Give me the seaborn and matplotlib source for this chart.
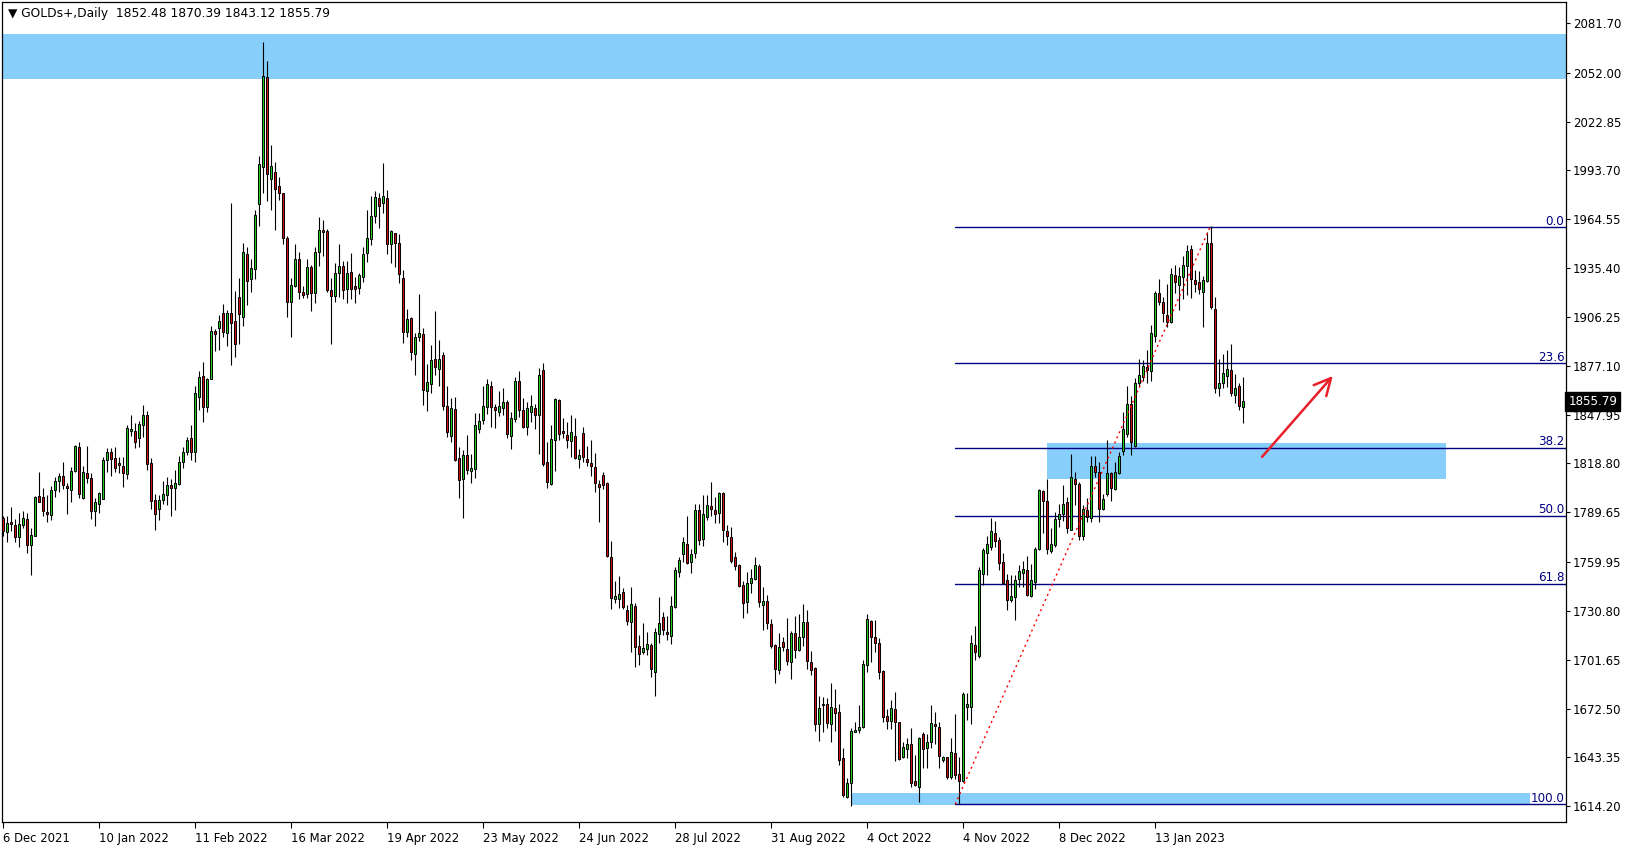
import numpy as np
import pandas as pd
import matplotlib
matplotlib.use("Agg")
import matplotlib.pyplot as plt
import matplotlib.transforms as mtransforms
import seaborn as sns

# %% daily candles (GOLDs+, one value per bar, oldest first)
opens = [
    1786.1, 1777.8, 1783.9, 1781.9, 1774.8, 1781.9, 1785.5, 1770.0, 1775.6, 1799.2,
    1798.6, 1789.9, 1788.1, 1803.2, 1808.2, 1811.4, 1805.4, 1803.2, 1814.5, 1828.5,
    1798.0, 1813.0, 1810.0, 1790.3, 1794.7, 1797.4, 1820.7, 1825.5, 1821.9, 1819.1,
    1817.3, 1812.3, 1838.4, 1838.0, 1834.2, 1841.6, 1847.5, 1818.9, 1796.8, 1791.5,
    1796.8, 1799.8, 1805.8, 1804.0, 1806.4, 1819.5, 1825.5, 1833.8, 1825.9, 1858.7,
    1871.0, 1852.3, 1869.4, 1897.7, 1899.9, 1908.4, 1896.9, 1908.4, 1903.8, 1918.0,
    1906.0, 1943.6, 1928.7, 1935.1, 1973.9, 1995.6, 2049.3, 1988.4, 1992.6, 1984.2,
    1980.0, 1953.2, 1915.4, 1924.9, 1940.7, 1921.4, 1919.8, 1935.9, 1920.4, 1944.8,
    1958.0, 1957.4, 1922.2, 1918.6, 1932.3, 1936.5, 1923.2, 1932.9, 1924.7, 1923.4,
    1929.9, 1944.6, 1953.0, 1966.7, 1977.1, 1974.1, 1977.1, 1949.6, 1956.2, 1950.2,
    1929.3, 1897.5, 1905.5, 1884.0, 1894.5, 1896.1, 1862.3, 1866.1, 1881.0, 1875.4,
    1883.4, 1852.9, 1835.4, 1851.3, 1821.9, 1809.8, 1823.9, 1814.0, 1815.4, 1839.4,
    1844.6, 1852.3, 1864.8, 1852.3, 1849.3, 1851.7, 1855.3, 1835.0, 1845.1, 1867.8,
    1850.5, 1840.3, 1849.3, 1851.7, 1847.9, 1874.4, 1819.5, 1806.3, 1832.6, 1856.4,
    1838.2, 1835.6, 1832.0, 1835.0, 1821.6, 1836.8, 1821.2, 1818.9, 1816.5, 1806.5,
    1811.9, 1806.9, 1762.8, 1737.7, 1738.1, 1741.9, 1731.4, 1724.4, 1733.7, 1709.9,
    1706.5, 1708.1, 1710.5, 1694.6, 1716.8, 1727.2, 1718.0, 1716.0, 1733.3, 1753.8,
    1764.6, 1770.7, 1759.8, 1765.2, 1790.8, 1773.5, 1787.1, 1793.2, 1790.8, 1789.0,
    1801.0, 1778.5, 1775.0, 1763.0, 1758.2, 1746.3, 1736.3, 1747.7, 1749.9, 1757.6,
    1734.5, 1736.5, 1723.0, 1710.5, 1695.8, 1712.3, 1707.9, 1700.5, 1717.4, 1707.5,
    1715.3, 1724.2, 1700.1, 1696.8, 1663.5, 1675.3, 1675.3, 1663.5, 1672.7, 1670.3,
    1643.1, 1619.9, 1627.9, 1658.7, 1659.7, 1661.3, 1698.5, 1724.8, 1715.4, 1711.4,
    1694.9, 1668.1, 1665.1, 1672.0, 1664.3, 1643.4, 1648.4, 1651.4, 1629.3, 1625.9,
    1657.1, 1649.2, 1652.4, 1663.3, 1661.3, 1641.6, 1643.4, 1631.7, 1645.8, 1633.3,
    1629.5, 1673.7, 1673.7, 1710.5, 1704.0, 1752.9, 1765.6, 1768.8, 1777.3, 1773.4,
    1759.8, 1749.3, 1737.4, 1738.8, 1749.9, 1753.7, 1755.3, 1739.4, 1748.1, 1768.0,
    1802.4, 1796.4, 1766.8, 1770.4, 1785.5, 1788.7, 1796.0, 1779.3, 1809.4, 1806.6,
    1775.5, 1790.8, 1786.1, 1817.3, 1813.5, 1791.8, 1800.4, 1812.9, 1803.4, 1812.9,
    1826.4, 1836.4, 1854.1, 1829.4, 1867.0, 1870.2, 1876.2, 1874.2, 1894.7, 1920.3,
    1915.0, 1907.4, 1903.4, 1931.3, 1925.3, 1930.3, 1936.8, 1946.8, 1928.3, 1926.9,
    1921.3, 1927.9, 1950.6, 1911.0, 1864.1, 1866.7, 1871.2, 1874.6, 1859.7, 1865.1,
    1852.48,
]
highs = [
    1787.5, 1787.5, 1792.7, 1785.7, 1789.3, 1790.5, 1789.1, 1780.5, 1799.6, 1813.8,
    1804.0, 1800.0, 1805.6, 1811.0, 1813.2, 1819.7, 1807.4, 1816.9, 1829.9, 1831.7,
    1817.3, 1829.3, 1813.0, 1798.2, 1802.0, 1822.7, 1828.3, 1828.3, 1828.7, 1822.5,
    1822.7, 1841.8, 1847.5, 1842.8, 1844.2, 1853.7, 1850.1, 1822.3, 1800.6, 1800.0,
    1808.4, 1810.9, 1809.6, 1814.9, 1823.3, 1828.4, 1834.8, 1841.8, 1865.0, 1874.0,
    1879.4, 1870.0, 1900.8, 1898.9, 1907.6, 1913.8, 1910.4, 1974.0, 1921.9, 1929.3,
    1950.6, 1948.0, 1940.9, 1969.9, 2002.3, 2070.3, 2059.0, 2008.7, 1998.7, 1989.8,
    1980.4, 1954.6, 1929.7, 1949.8, 1945.0, 1924.5, 1940.9, 1937.3, 1948.0, 1965.9,
    1963.9, 1958.8, 1929.3, 1938.3, 1949.8, 1939.9, 1939.5, 1944.4, 1930.3, 1932.5,
    1948.0, 1970.1, 1978.5, 1981.2, 1980.4, 1997.9, 1982.0, 1958.2, 1956.6, 1955.8,
    1934.3, 1911.0, 1906.4, 1896.9, 1920.0, 1899.5, 1878.2, 1889.5, 1909.8, 1892.5,
    1885.6, 1865.1, 1857.7, 1858.5, 1828.7, 1826.9, 1835.8, 1824.5, 1848.8, 1848.8,
    1865.1, 1869.2, 1868.0, 1854.1, 1862.0, 1863.6, 1856.6, 1849.3, 1870.2, 1874.0,
    1857.6, 1855.5, 1859.4, 1854.5, 1875.5, 1878.5, 1831.4, 1841.5, 1857.6, 1857.0,
    1845.7, 1843.3, 1847.5, 1845.7, 1827.2, 1840.5, 1829.2, 1832.8, 1825.0, 1808.7,
    1813.9, 1807.9, 1772.5, 1748.7, 1751.6, 1744.3, 1734.3, 1745.1, 1735.7, 1716.4,
    1723.4, 1718.0, 1711.5, 1720.4, 1739.1, 1730.4, 1727.8, 1739.7, 1757.0, 1763.2,
    1774.9, 1787.5, 1767.9, 1794.8, 1794.6, 1800.0, 1800.0, 1807.7, 1798.6, 1801.8,
    1801.8, 1782.0, 1781.0, 1766.0, 1758.8, 1748.7, 1753.8, 1755.8, 1763.0, 1758.8,
    1744.9, 1740.3, 1725.8, 1711.1, 1717.4, 1715.1, 1726.4, 1719.0, 1727.8, 1729.0,
    1734.9, 1731.2, 1706.9, 1697.6, 1680.0, 1679.6, 1678.9, 1687.6, 1684.2, 1675.3,
    1649.2, 1630.9, 1660.7, 1664.7, 1674.6, 1701.5, 1728.7, 1725.3, 1725.3, 1714.8,
    1695.5, 1672.0, 1677.6, 1682.2, 1664.7, 1652.7, 1654.7, 1660.7, 1644.8, 1655.7,
    1658.7, 1657.3, 1674.6, 1670.3, 1664.3, 1644.4, 1643.8, 1654.7, 1669.5, 1643.8,
    1682.2, 1681.7, 1716.5, 1721.8, 1757.2, 1768.2, 1775.2, 1786.3, 1784.5, 1774.8,
    1765.2, 1752.9, 1752.3, 1752.3, 1758.2, 1760.6, 1763.6, 1758.8, 1769.2, 1803.4,
    1803.0, 1809.4, 1780.5, 1790.1, 1794.6, 1806.2, 1799.0, 1824.5, 1813.9, 1808.0,
    1794.0, 1798.0, 1823.3, 1823.3, 1819.9, 1800.4, 1832.8, 1813.9, 1819.9, 1825.9,
    1849.7, 1865.0, 1859.1, 1869.6, 1880.9, 1880.5, 1886.5, 1901.4, 1921.9, 1928.9,
    1918.3, 1925.7, 1935.2, 1937.2, 1936.2, 1942.6, 1949.2, 1949.2, 1934.4, 1933.8,
    1930.7, 1957.2, 1960.6, 1918.4, 1881.0, 1884.0, 1886.6, 1890.0, 1872.2, 1866.7,
    1870.39,
]
lows = [
    1775.2, 1771.8, 1778.5, 1772.0, 1769.2, 1780.5, 1765.6, 1752.1, 1775.2, 1795.5,
    1787.7, 1784.1, 1785.1, 1798.6, 1802.0, 1803.8, 1788.9, 1795.5, 1813.6, 1798.0,
    1797.8, 1807.4, 1785.9, 1781.7, 1789.1, 1797.4, 1813.9, 1811.6, 1813.6, 1812.8,
    1805.0, 1809.8, 1835.2, 1827.9, 1828.8, 1834.6, 1814.9, 1791.5, 1779.3, 1784.9,
    1794.8, 1793.8, 1787.7, 1791.3, 1806.2, 1816.3, 1823.9, 1820.9, 1819.9, 1850.7,
    1843.8, 1849.7, 1869.0, 1885.9, 1886.5, 1894.5, 1889.1, 1877.8, 1882.6, 1890.1,
    1900.8, 1913.2, 1921.4, 1928.9, 1960.7, 1980.4, 1975.7, 1970.1, 1958.2, 1976.1,
    1949.6, 1906.4, 1894.5, 1923.9, 1917.2, 1917.6, 1917.4, 1910.0, 1914.8, 1936.9,
    1942.8, 1921.4, 1889.9, 1915.4, 1918.4, 1917.2, 1914.8, 1917.0, 1914.8, 1920.2,
    1927.1, 1939.3, 1949.2, 1962.5, 1959.6, 1968.1, 1943.6, 1938.7, 1936.3, 1926.3,
    1890.9, 1894.5, 1880.6, 1871.6, 1892.1, 1853.7, 1849.8, 1861.1, 1871.6, 1865.3,
    1850.8, 1834.8, 1831.3, 1820.5, 1798.4, 1786.1, 1812.4, 1807.0, 1810.0, 1837.2,
    1842.4, 1848.5, 1840.7, 1840.1, 1847.1, 1847.7, 1834.2, 1827.6, 1843.7, 1846.5,
    1839.9, 1835.8, 1843.7, 1839.5, 1824.6, 1817.3, 1804.3, 1805.9, 1814.5, 1832.8,
    1834.2, 1828.2, 1822.8, 1821.6, 1816.3, 1819.9, 1817.5, 1811.5, 1802.0, 1784.0,
    1803.4, 1762.8, 1731.8, 1735.7, 1732.4, 1731.8, 1722.4, 1706.5, 1697.2, 1698.3,
    1705.3, 1704.5, 1691.6, 1680.0, 1711.9, 1716.4, 1713.3, 1710.9, 1732.4, 1750.9,
    1760.2, 1758.6, 1753.6, 1762.6, 1770.2, 1769.8, 1785.1, 1787.5, 1783.1, 1783.5,
    1772.1, 1770.0, 1759.2, 1755.2, 1744.9, 1726.8, 1729.8, 1741.7, 1749.3, 1733.4,
    1719.4, 1720.0, 1708.9, 1688.0, 1693.2, 1706.9, 1698.5, 1690.4, 1702.9, 1706.9,
    1709.9, 1696.2, 1692.6, 1659.4, 1653.2, 1658.8, 1660.8, 1652.8, 1659.4, 1639.1,
    1620.0, 1619.3, 1614.2, 1658.3, 1657.7, 1660.7, 1694.5, 1700.1, 1706.1, 1690.1,
    1664.7, 1660.1, 1660.3, 1641.4, 1641.8, 1642.8, 1642.8, 1625.9, 1626.5, 1616.5,
    1637.2, 1637.2, 1648.8, 1651.2, 1637.2, 1640.4, 1630.5, 1630.3, 1630.5, 1615.4,
    1628.9, 1665.8, 1663.4, 1701.2, 1702.6, 1746.3, 1752.3, 1767.2, 1768.8, 1755.3,
    1746.9, 1731.4, 1736.2, 1725.4, 1745.3, 1745.3, 1739.4, 1738.8, 1743.9, 1767.2,
    1777.1, 1764.8, 1765.6, 1769.2, 1780.7, 1784.7, 1777.5, 1779.1, 1794.2, 1773.2,
    1773.2, 1784.1, 1784.1, 1810.9, 1784.1, 1791.0, 1799.6, 1796.4, 1803.0, 1812.5,
    1823.9, 1834.8, 1823.9, 1828.8, 1864.6, 1868.0, 1866.6, 1868.2, 1891.5, 1913.4,
    1903.4, 1900.4, 1902.4, 1920.3, 1910.4, 1916.7, 1919.3, 1917.7, 1921.3, 1919.7,
    1900.4, 1927.3, 1910.8, 1861.1, 1859.3, 1863.7, 1864.7, 1859.3, 1854.7, 1850.8,
    1843.12,
]
closes = [
    1778.2, 1783.1, 1782.5, 1774.8, 1782.5, 1786.1, 1770.0, 1776.0, 1798.8, 1795.7,
    1790.3, 1788.5, 1802.8, 1808.2, 1811.2, 1805.8, 1804.0, 1814.2, 1829.3, 1800.8,
    1813.6, 1810.0, 1790.3, 1795.7, 1801.2, 1820.7, 1825.7, 1821.3, 1815.9, 1818.1,
    1813.0, 1839.8, 1839.4, 1831.4, 1842.2, 1847.5, 1818.7, 1796.6, 1788.5, 1796.8,
    1800.4, 1805.8, 1804.0, 1807.4, 1819.5, 1825.5, 1832.8, 1825.9, 1860.9, 1870.2,
    1852.7, 1869.0, 1897.7, 1896.3, 1903.6, 1897.5, 1908.4, 1902.8, 1890.3, 1908.2,
    1945.0, 1927.9, 1935.3, 1966.9, 1997.3, 2049.9, 1991.4, 1996.2, 1982.4, 1980.0,
    1953.2, 1915.4, 1925.1, 1940.7, 1921.0, 1919.4, 1935.9, 1920.4, 1944.8, 1958.0,
    1957.2, 1922.2, 1918.6, 1932.3, 1936.5, 1922.2, 1932.3, 1923.2, 1923.2, 1931.1,
    1943.6, 1953.2, 1966.3, 1977.7, 1972.7, 1978.3, 1949.6, 1957.6, 1950.6, 1932.1,
    1897.1, 1904.9, 1885.6, 1894.1, 1896.5, 1862.5, 1867.3, 1880.4, 1876.6, 1881.0,
    1853.3, 1837.8, 1851.7, 1820.9, 1809.2, 1823.9, 1814.6, 1815.9, 1841.6, 1844.0,
    1852.9, 1866.0, 1852.7, 1850.5, 1852.9, 1855.3, 1836.6, 1845.7, 1867.8, 1850.5,
    1840.7, 1851.7, 1852.9, 1847.5, 1871.4, 1818.3, 1807.5, 1833.2, 1857.0, 1836.6,
    1837.2, 1832.6, 1837.4, 1822.2, 1823.6, 1822.4, 1819.5, 1817.1, 1806.9, 1804.9,
    1805.9, 1763.6, 1738.3, 1739.7, 1740.9, 1733.3, 1725.0, 1734.7, 1709.1, 1704.9,
    1708.5, 1711.1, 1696.0, 1718.0, 1723.4, 1719.2, 1716.8, 1733.7, 1755.2, 1761.2,
    1771.9, 1759.2, 1764.6, 1790.8, 1772.9, 1788.8, 1794.0, 1791.8, 1788.8, 1801.0,
    1778.9, 1775.5, 1760.6, 1757.8, 1745.9, 1735.7, 1747.3, 1750.3, 1758.2, 1736.3,
    1736.5, 1723.4, 1709.9, 1696.4, 1709.1, 1709.1, 1701.1, 1717.4, 1707.5, 1715.1,
    1724.2, 1701.1, 1695.8, 1663.5, 1672.7, 1674.7, 1664.1, 1673.3, 1670.1, 1642.1,
    1620.9, 1627.9, 1659.1, 1659.5, 1661.3, 1698.9, 1725.7, 1715.4, 1711.4, 1694.5,
    1667.7, 1665.1, 1672.6, 1664.7, 1642.2, 1649.4, 1651.4, 1628.3, 1626.9, 1654.7,
    1648.4, 1652.5, 1663.9, 1662.3, 1644.4, 1643.4, 1631.9, 1646.6, 1632.7, 1629.5,
    1681.2, 1675.3, 1711.5, 1706.0, 1755.3, 1767.2, 1770.6, 1778.5, 1772.6, 1759.6,
    1747.3, 1737.0, 1739.7, 1749.3, 1754.7, 1755.9, 1740.3, 1749.3, 1767.8, 1803.0,
    1796.6, 1768.0, 1770.8, 1785.5, 1788.5, 1794.6, 1780.5, 1810.6, 1806.8, 1775.7,
    1791.5, 1787.1, 1817.3, 1813.5, 1791.8, 1797.4, 1812.9, 1804.0, 1813.9, 1823.3,
    1839.4, 1854.1, 1831.8, 1866.6, 1871.6, 1877.0, 1874.4, 1896.5, 1920.3, 1915.0,
    1908.4, 1903.4, 1931.7, 1926.9, 1930.7, 1937.2, 1945.8, 1928.7, 1926.1, 1922.7,
    1928.3, 1950.6, 1912.4, 1864.1, 1866.9, 1872.6, 1875.0, 1861.1, 1863.7, 1852.8,
    1855.79,
]

date_labels = ["6 Dec 2021", "10 Jan 2022", "11 Feb 2022", "16 Mar 2022", "19 Apr 2022",
               "23 May 2022", "24 Jun 2022", "28 Jul 2022", "31 Aug 2022", "4 Oct 2022",
               "4 Nov 2022", "8 Dec 2022", "13 Jan 2023"]
bars_per_label = 24
price_ticks = [2081.70, 2052.00, 2022.85, 1993.70, 1964.55, 1935.40, 1906.25, 1877.10,
               1847.95, 1818.80, 1789.65, 1759.95, 1730.80, 1701.65, 1672.50, 1643.35, 1614.20]

symbol = "GOLDs+,Daily"
fib_levels = [0.0, 23.6, 38.2, 50.0, 61.8, 100.0]
fib_low, fib_high = 1615.4, 1959.8          # swing low / swing high
fib_start_bar, fib_end_bar = 238.0, 301.7   # anchor bars of the swing
# supply / demand boxes: (first bar, last bar, low, high), None = full width
zones = [(None, None, 2048.3, 2074.9),
         (260.9, 360.7, 1809.5, 1831.0),
         (211.9, 381.7, 1614.8, 1622.3)]
arrow_from = (314.7, 1822.7)
arrow_to = (332.4, 1871.0)

# %% frame
df = pd.DataFrame({"open": opens, "high": highs, "low": lows, "close": closes})
df["bar"] = np.arange(len(df))
df["up"] = df["close"] >= df["open"]

sns.set_theme(style="white")
plt.rcParams["font.family"] = ["DejaVu Sans"]

fig = plt.figure(figsize=(16.29, 8.5), dpi=100)
fig.patch.set_facecolor("white")
ax = fig.add_axes([2 / 1629, 28 / 850, 1564 / 1629, 820 / 850])
ax.set_facecolor("white")

zone_color = "#87CEFA"
for x0, x1, lo, hi in zones:
    if x0 is None:
        ax.axhspan(lo, hi, color=zone_color, lw=0, zorder=0)
    else:
        ax.fill_between([x0, x1], lo, hi, color=zone_color, lw=0, zorder=0)

# candles
green, red = "#1ecb1e", "#d01010"
ax.vlines(df["bar"], df["low"], df["high"], color="black", lw=0.8, zorder=3)
body_low = df[["open", "close"]].min(axis=1)
body_h = (df["close"] - df["open"]).abs().clip(lower=0.35)
ax.bar(df["bar"], body_h, bottom=body_low, width=0.56,
       color=np.where(df["up"], green, red), edgecolor="black", linewidth=0.7, zorder=4)

# fibonacci retracement
fib_color = "#000080"
x_right = 390.7
for lvl in fib_levels:
    p = fib_high - lvl / 100.0 * (fib_high - fib_low)
    ax.plot([fib_start_bar, x_right], [p, p], color=fib_color, lw=1.0, zorder=2)
    ax.text(x_right - 0.4, p - 0.3, f"{lvl:.1f}", color=fib_color, fontsize=8.6,
            ha="right", va="bottom", zorder=6)
ax.plot([fib_start_bar, fib_end_bar], [fib_low, fib_high], color="red", lw=1.0,
        linestyle=(0, (1.5, 2.5)), zorder=5)

ax.annotate("", xy=arrow_to, xytext=arrow_from,
            arrowprops=dict(arrowstyle="->,head_length=1.0,head_width=0.5", color="#e8202a",
                            lw=1.8, shrinkA=0, shrinkB=0), zorder=6)

# axes
ax.set_xlim(-0.33, x_right)
ax.set_ylim(1604.8, 2094.2)
ax.yaxis.tick_right()
ax.set_yticks(price_ticks)
ax.set_yticklabels([f"{p:.2f}" for p in price_ticks])
ax.set_xticks(np.arange(len(date_labels)) * bars_per_label)
ax.set_xticklabels(date_labels, ha="left")
ax.tick_params(axis="y", direction="out", length=3, width=0.8, pad=2, labelsize=8.5,
               colors="black", right=True, left=False)
ax.tick_params(axis="x", direction="out", length=4, width=0.8, pad=3, labelsize=8.4,
               colors="black", bottom=True)
for s in ax.spines.values():
    s.set_color("black")
    s.set_linewidth(0.9)
    s.set_visible(True)

# last price tag on the scale
trans = mtransforms.blended_transform_factory(ax.transAxes, ax.transData)
ax.text(1.0015, closes[-1], f"{closes[-1]:.2f}", transform=trans, color="white",
        fontsize=8.6, ha="left", va="center", zorder=10,
        bbox=dict(boxstyle="square,pad=0.24", fc="black", ec="black"))

# header
ax.text(0.004, 0.9855, "\u25BC " + symbol + "  " +
        " ".join(f"{v:.2f}" for v in (opens[-1], highs[-1], lows[-1], closes[-1])),
        transform=ax.transAxes, fontsize=8.8, color="black", ha="left", va="center")

fig.savefig("out.png", dpi=100, facecolor="white")
